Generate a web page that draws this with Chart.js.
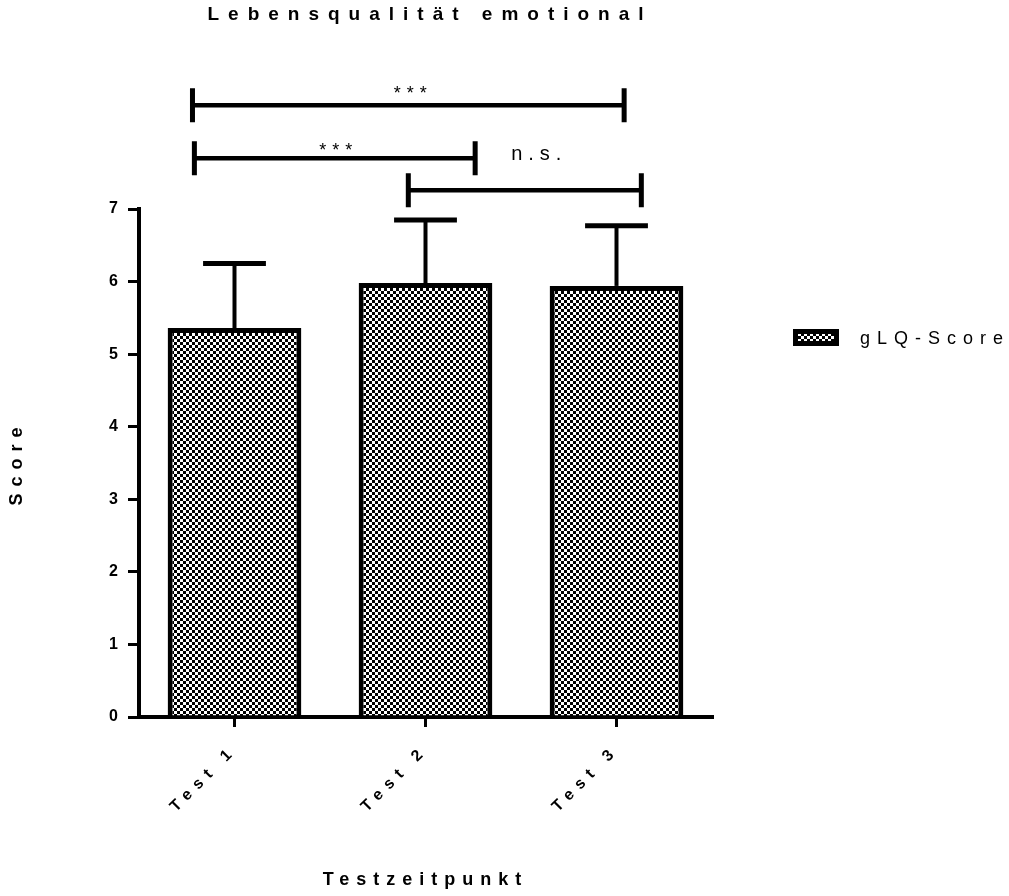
<!DOCTYPE html>
<html>
<head>
<meta charset="utf-8">
<title>Lebensqualität emotional</title>
<script src="https://cdn.jsdelivr.net/npm/chart.js@4.4.1/dist/chart.umd.min.js"></script>
<style>
    body { margin: 0; background: #fff; }
    #chart_container { width: 1009px; height: 896px; }
</style>
</head>
<body>
<div id="chart_container">
    <canvas id="lq_emotional" width="1009" height="896"></canvas>
</div>
<script>
    // values
    const chartTitle = 'Lebensqualität emotional';
    const categories = ['Test 1', 'Test 2', 'Test 3'];
    const seriesLabel = 'gLQ-Score';
    const meanValues = [5.36, 5.98, 5.94];
    const errorTops = [6.25, 6.85, 6.77];
    const yTickValues = [0, 1, 2, 3, 4, 5, 6, 7];

    // significance brackets (x in category index units, y in score units)
    const bracketFrom = [-0.22, -0.21, 0.91];
    const bracketTo = [2.04, 1.26, 2.13];
    const bracketLevel = [8.43, 7.70, 7.26];
    const bracketText = ['***', '***', 'n.s.'];
    const bracketTextX = [0.92, 0.53, 1.58];
    const bracketTextY = [8.52, 7.73, 7.68];

    const ctx = document.getElementById('lq_emotional');
    const fontFamily = "'Liberation Sans', Arial, sans-serif";
    Chart.defaults.font.family = fontFamily;
    Chart.defaults.color = '#000';

    // checkerboard fill like the original bars
    const tile = document.createElement('canvas');
    tile.width = 6;
    tile.height = 6;
    const tctx = tile.getContext('2d');
    tctx.fillStyle = '#fff';
    tctx.fillRect(0, 0, 6, 6);
    tctx.fillStyle = '#000';
    tctx.fillRect(0, 0, 3, 3);
    tctx.fillRect(3, 3, 3, 3);
    const checker = ctx.getContext('2d').createPattern(tile, 'repeat');

    const extras = {
        id: 'extras',
        beforeUpdate(chart) { chart.ctx.letterSpacing = '7px'; },
        beforeDraw(chart) { chart.ctx.letterSpacing = '7px'; },
        afterDatasetsDraw(chart) {
            const c = chart.ctx;
            const y = chart.scales.y;
            c.save();
            c.strokeStyle = '#000';
            chart.getDatasetMeta(0).data.forEach((bar, i) => {
                const top = y.getPixelForValue(errorTops[i]);
                const half = bar.width * 0.235;
                c.lineWidth = 4;
                c.beginPath();
                c.moveTo(bar.x, bar.y);
                c.lineTo(bar.x, top);
                c.stroke();
                c.lineWidth = 5;
                c.beginPath();
                c.moveTo(bar.x - half, top);
                c.lineTo(bar.x + half, top);
                c.stroke();
            });
            c.restore();
        },
        afterDraw(chart) {
            const c = chart.ctx;
            const x = chart.scales.x;
            const y = chart.scales.y;
            const area = chart.chartArea;
            c.save();
            c.fillStyle = '#000';
            c.strokeStyle = '#000';

            // title
            c.letterSpacing = '9px';
            c.font = 'bold 19px ' + fontFamily;
            c.textAlign = 'center';
            c.textBaseline = 'alphabetic';
            c.fillText(chartTitle, (area.left + area.right) / 2 + 4.5, 20);

            // brackets
            bracketFrom.forEach((from, i) => {
                const x1 = x.getPixelForValue(from);
                const x2 = x.getPixelForValue(bracketTo[i]);
                const yy = y.getPixelForValue(bracketLevel[i]);
                c.lineWidth = 4.5;
                c.beginPath();
                c.moveTo(x1, yy);
                c.lineTo(x2, yy);
                c.stroke();
                c.lineWidth = 5;
                c.beginPath();
                c.moveTo(x1, yy - 17);
                c.lineTo(x1, yy + 17);
                c.moveTo(x2, yy - 17);
                c.lineTo(x2, yy + 17);
                c.stroke();
                const isStars = bracketText[i] === '***';
                c.letterSpacing = '6px';
                c.font = (isStars ? '18px ' : '20px ') + fontFamily;
                c.fillText(bracketText[i], x.getPixelForValue(bracketTextX[i]) + 3, y.getPixelForValue(bracketTextY[i]));
            });

            // legend
            const lx = area.right + 81;
            const ly = 329;
            c.fillStyle = '#000';
            c.fillRect(lx, ly, 46, 17);
            c.fillStyle = checker;
            c.fillRect(lx + 5, ly + 5, 36, 7);
            c.fillStyle = '#000';
            c.letterSpacing = '7px';
            c.font = '18px ' + fontFamily;
            c.textAlign = 'left';
            c.textBaseline = 'middle';
            c.fillText(seriesLabel, lx + 67, ly + 10);
            c.restore();
        }
    };

    new Chart(ctx, {
        type: 'bar',
        data: {
            labels: categories,
            datasets: [{
                label: seriesLabel,
                data: meanValues,
                backgroundColor: checker,
                borderColor: '#000',
                borderWidth: 5,
                borderSkipped: 'start',
                categoryPercentage: 1,
                barPercentage: 0.7,
            }]
        },
        options: {
            responsive: false,
            animation: false,
            events: [],
            layout: { padding: { top: 209, right: 297, bottom: 0, left: 0 } },
            scales: {
                x: {
                    offset: true,
                    grid: { offset: false, drawOnChartArea: false, tickLength: 10, lineWidth: 3, tickColor: '#000' },
                    border: { color: '#000', width: 4 },
                    ticks: { minRotation: 45, maxRotation: 45, padding: 14, font: { size: 16, weight: 'bold' } },
                    title: { display: true, text: 'Testzeitpunkt', font: { size: 18, weight: 'bold' }, padding: { top: 0, bottom: 5 } },
                    afterFit(scale) { scale.height = 179; },
                },
                y: {
                    min: 0,
                    max: 7,
                    afterBuildTicks(scale) { scale.ticks = yTickValues.map(v => ({ value: v })); },
                    grid: { drawOnChartArea: false, tickLength: 11, lineWidth: 3, tickColor: '#000' },
                    border: { color: '#000', width: 4 },
                    ticks: { padding: 3, font: { size: 16, weight: 'bold' } },
                    title: { display: true, text: 'Score', font: { size: 18, weight: 'bold' }, padding: { top: 6, bottom: 0 } },
                    afterFit(scale) { scale.width = 139; },
                }
            },
            plugins: {
                legend: { display: false },
                title: { display: false },
                tooltip: { enabled: false },
            },
        },
        plugins: [extras],
    });
</script>
</body>
</html>
